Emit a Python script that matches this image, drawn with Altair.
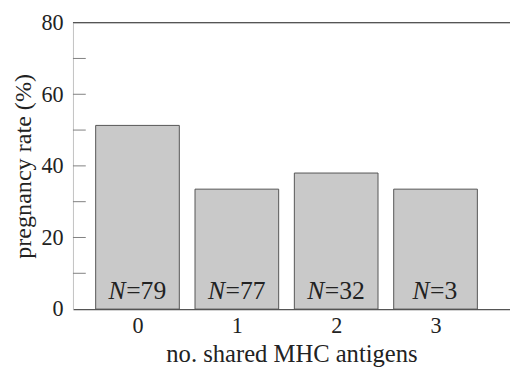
import altair as alt
import pandas as pd

shared = [0, 1, 2, 3]
rate = [51.3, 33.5, 38.0, 33.5]
n_values = ["79", "77", "32", "3"]
y_tick_values = [10, 20, 30, 40, 50, 60, 70]
y_label_values = [0, 20, 40, 60, 80]
top_value = [80]

bars_df = pd.DataFrame({
    "shared": shared, "rate": rate,
    "n": ["=" + s for s in n_values],
    "digits": [len(s) for s in n_values],
    "zero": [0] * 4,
})
ticks_df = pd.DataFrame({"t": y_tick_values})
top_df = pd.DataFrame({"t": top_value})

FONT = "Liberation Serif"
W, H = 444, 291

xscale = alt.Scale(domain=[-0.6, 3.7], nice=False, zero=False)
yscale = alt.Scale(domain=[0, 80], nice=False)

x_enc = alt.X(
    "shared:Q",
    scale=xscale,
    axis=alt.Axis(
        values=shared, format="d", ticks=False, grid=False,
        domainColor="#555555", domainWidth=1.2,
        labelFont=FONT, labelFontSize=22.5, labelColor="#222222", labelPadding=6,
        title="no. shared MHC antigens", titleFont=FONT, titleFontSize=25,
        titleFontWeight="normal", titleColor="#222222", titlePadding=5,
    ),
)
y_enc = alt.Y(
    "rate:Q",
    scale=yscale,
    axis=alt.Axis(
        values=y_label_values, ticks=False, grid=False,
        domainColor="#c4c4c4", domainWidth=1,
        labelFont=FONT, labelFontSize=22.5, labelColor="#222222", labelPadding=10,
        title="pregnancy rate (%)", titleFont=FONT, titleFontSize=24.5,
        titleFontWeight="normal", titleColor="#222222", titlePadding=6,
    ),
)

bars = alt.Chart(bars_df).mark_bar(
    size=85, fill="#c9c9c9", stroke="#555555", strokeWidth=1
).encode(x=x_enc, y=y_enc)

ticks = alt.Chart(ticks_df).mark_rule(color="#808080", strokeWidth=1).encode(
    x=alt.value(0), x2=alt.value(13), y=alt.Y("t:Q", scale=yscale)
)

top = alt.Chart(top_df).mark_rule(color="#555555", strokeWidth=1.2).encode(
    x=alt.value(0), x2=alt.value(W), y=alt.Y("t:Q", scale=yscale)
)

def n_layers(ndig, shift):
    base = alt.Chart(bars_df).transform_filter(alt.datum.digits == ndig)
    nt = base.mark_text(
        text="N", font=FONT, fontSize=26, fontStyle="italic", align="right",
        baseline="alphabetic", dx=-12 + shift, dy=-10, color="#222222"
    ).encode(x=alt.X("shared:Q", scale=xscale), y=alt.Y("zero:Q", scale=yscale))
    vt = base.mark_text(
        font=FONT, fontSize=26, align="left", baseline="alphabetic",
        dx=-11.5 + shift, dy=-10, color="#222222"
    ).encode(x=alt.X("shared:Q", scale=xscale), y=alt.Y("zero:Q", scale=yscale), text="n:N")
    return [nt, vt]

chart = alt.layer(bars, ticks, top, *n_layers(2, 0), *n_layers(1, 6)).properties(
    width=W, height=H,
    autosize=alt.AutoSizeParams(type="none"),
    padding={"left": 66, "top": 12, "right": 0, "bottom": 60},
).configure_view(stroke=None).configure(background="white")

chart.save("out.html", embed_options={"renderer": "svg", "actions": False})
